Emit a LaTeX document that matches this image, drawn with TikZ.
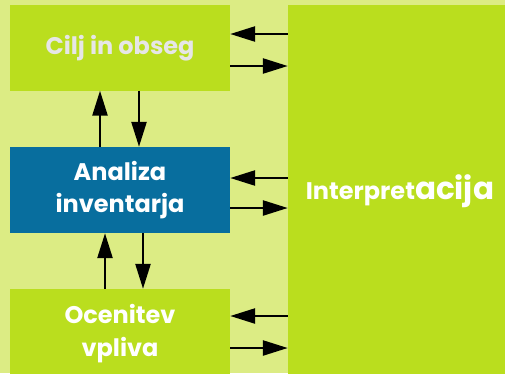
\documentclass[tikz,border=0pt]{standalone}
\usepackage{fontspec}
\setmainfont{Poppins}
\usetikzlibrary{arrows.meta}
\definecolor{bgc}{HTML}{DCEC84}
\definecolor{gbox}{HTML}{BADE1E}
\definecolor{bbox}{HTML}{086E9E}
\definecolor{ltxt}{HTML}{E6E6E6}
\tikzset{
  stagebox/.style={minimum width=220pt, inner sep=0pt, align=center, font=\fontsize{24}{32.5}\selectfont\bfseries, text=white},
  arr/.style={line width=2.5pt, -{Triangle[length=25pt,width=15pt]}}
}
\begin{document}
\begin{tikzpicture}[x=1pt,y=-1pt]
\useasboundingbox (0,0) rectangle (505,373);
\fill[bgc] (0,0) rectangle (505,373);
\node[stagebox, fill=gbox, minimum height=85.5pt, text=ltxt] (cilj) at (120,47.75) {Cilj in obseg};
\node[stagebox, fill=bbox, minimum height=86pt] (ana) at (120,190) {Analiza\\inventarja};
\node[stagebox, fill=gbox, minimum height=89pt] (oce) at (120,333.5) {Ocenitev\\vpliva};
\node[stagebox, fill=gbox, minimum width=224pt, minimum height=373pt] (interp) at (400,191.5) {Interpret{\fontsize{31}{31}\selectfont acija}};
% vertical connectors
\draw[arr] ([xshift=-20pt]ana.north) -- ([xshift=-20pt]cilj.south);
\draw[arr] ([xshift=19pt]cilj.south) -- ([xshift=19pt]ana.north);
\draw[arr] ([xshift=-15pt]oce.north) -- ([xshift=-15pt]ana.south);
\draw[arr] ([xshift=23pt]ana.south) -- ([xshift=23pt]oce.north);
% horizontal connectors
\coordinate (h1) at (0,34);
\coordinate (h2) at (0,66);
\coordinate (h3) at (0,178);
\coordinate (h4) at (0,208);
\coordinate (h5) at (0,316);
\coordinate (h6) at (0,348);
\draw[arr] (interp.west |- h1) -- (cilj.east |- h1);
\draw[arr] (cilj.east |- h2) -- (interp.west |- h2);
\draw[arr] (interp.west |- h3) -- (ana.east |- h3);
\draw[arr] (ana.east |- h4) -- (interp.west |- h4);
\draw[arr] (interp.west |- h5) -- (oce.east |- h5);
\draw[arr] (oce.east |- h6) -- (interp.west |- h6);
\end{tikzpicture}
\end{document}
